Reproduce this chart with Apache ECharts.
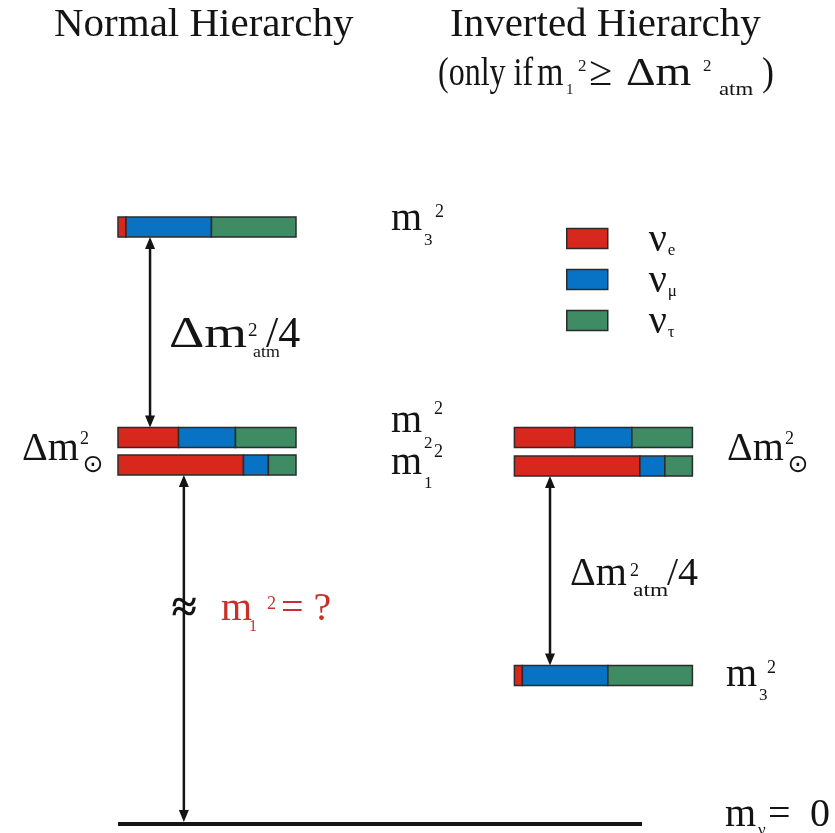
<!DOCTYPE html>
<html>
<head>
<meta charset="utf-8">
<script src="https://cdn.jsdelivr.net/npm/echarts@6/dist/echarts.min.js"></script>
<style>
  html, body { margin: 0; padding: 0; background: #fff; }
  #chart { width: 835px; height: 833px; }
</style>
</head>
<body>
<div id="chart"></div>
<script>
// Neutrino mass states, flavour content and schematic mass-squared levels
const flavours = ['νe', 'νμ', 'ντ'];
const states = ['m1', 'm2', 'm3'];
const normalLevel = [11.97, 12.88, 19.9];   // normal ordering
const invertedLevel = [11.93, 12.88, 4.95]; // inverted ordering
const shareE = [0.705, 0.34, 0.045];
const shareMu = [0.14, 0.32, 0.48];
const shareTau = [0.155, 0.34, 0.475];
const zeroLevel = 0;

const shares = [shareE, shareMu, shareTau];
const flavourColors = ['#d8281d', '#0873c5', '#3e8b64'];
const INVERTED_OFFSET = 2.227;  // x offset of the inverted column (bar widths)
const BASELINE_END = 2.944;
const BAR_H = 20;
const FONT = "'Liberation Serif', 'Times New Roman', serif";
const INK = '#141414';
const RED = '#c9302a';

function segments(f) {
  const out = [];
  [[0, normalLevel], [INVERTED_OFFSET, invertedLevel]].forEach(([off, lv]) => {
    states.forEach((s, i) => {
      let a = off;
      for (let k = 0; k < f; k++) a += shares[k][i];
      out.push([a, a + shares[f][i], lv[i]]);
    });
  });
  return out;
}

function renderBar(params, api) {
  const a = api.coord([api.value(0), api.value(2)]);
  const b = api.coord([api.value(1), api.value(2)]);
  return {
    type: 'rect',
    shape: { x: a[0], y: a[1] - BAR_H / 2, width: b[0] - a[0], height: BAR_H },
    style: { fill: api.visual('color'), stroke: '#2b2b2b', lineWidth: 1.5 }
  };
}

// double-headed arrows between levels: [x, fromLevel, toLevel]
const gaps = [
  [0.18, normalLevel[2], normalLevel[1]],
  [0.37, normalLevel[0], zeroLevel],
  [INVERTED_OFFSET + 0.2, invertedLevel[0], invertedLevel[2]]
];

function renderArrow(params, api) {
  const x = api.value(0);
  const p = api.coord([x, api.value(1)]);
  const q = api.coord([x, api.value(2)]);
  const padP = api.value(1) === zeroLevel ? 2 : BAR_H / 2;
  const padQ = api.value(2) === zeroLevel ? 2 : BAR_H / 2;
  const dir = q[1] > p[1] ? 1 : -1;
  const y1 = p[1] + dir * padP;
  const y2 = q[1] - dir * padQ;
  const L = 12, W = 5;
  const head = (tipY, d) => ({
    type: 'polygon',
    shape: { points: [[p[0], tipY], [p[0] - W, tipY + d * L], [p[0] + W, tipY + d * L]] },
    style: { fill: INK }
  });
  return {
    type: 'group',
    children: [
      { type: 'line', shape: { x1: p[0], y1: y1 + dir * 6, x2: p[0], y2: y2 - dir * 6 },
        style: { stroke: INK, lineWidth: 2.5 } },
      head(y1, dir),
      head(y2, -dir)
    ]
  };
}

// text helper: left x, alphabetic baseline y, optional horizontal stretch
function t(text, x, base, size, extra, sx) {
  const el = {
    type: 'text', x: x, y: base - 0.3375 * size, silent: true,
    style: Object.assign({
      text: text, fontSize: size, fontFamily: FONT, fill: INK,
      align: 'left', verticalAlign: 'middle'
    }, extra || {})
  };
  if (sx) el.scaleX = sx;
  return el;
}
function sun(cx, cy) {
  return {
    type: 'text', x: cx, y: cy, silent: true,
    style: { text: '⊙', fontSize: 25, fontFamily: "'DejaVu Sans', sans-serif",
             fill: INK, align: 'center', verticalAlign: 'middle' }
  };
}

const labels = [
  t('Normal Hierarchy', 54, 39, 41),
  t('Inverted Hierarchy', 450, 39, 41),
  t('(only if', 438, 88, 40, null, 0.8), t('m', 537, 88, 40, null, 0.85),
  t('1', 566, 95, 15), t('2', 578, 72, 17),
  t('≥', 589, 88, 42), t('Δm', 626, 88, 40, null, 1.15), t('2', 703, 72, 17),
  t('atm', 719, 96, 19, null, 1.2), t(')', 762, 88, 40, null, 0.9),

  t('m', 391, 233, 40), t('3', 424, 246, 17), t('2', 435, 218, 18),
  t('m', 391, 435, 40), t('2', 424, 449, 17), t('2', 434, 415, 18),
  t('m', 391, 477, 40), t('1', 424, 489, 17), t('2', 434, 458, 18),

  t('Δm', 169, 350, 44, null, 1.25), t('2', 248, 337, 19), t('atm', 253, 358, 17, null, 1.05),
  t('/4', 266, 350, 44),

  t('Δm', 22, 463, 40), t('2', 80, 445, 18), sun(93, 465),

  t('m', 221, 623, 40, { fill: RED }), t('1', 249, 632, 16, { fill: RED }),
  t('2', 267, 610, 18, { fill: RED }), t('= ?', 281, 623, 40, { fill: RED }),
  { type: 'text', x: 184, y: 610, silent: true,
    style: { text: '≈', fontSize: 46, fontWeight: 'bold', fontFamily: FONT, fill: INK,
             align: 'center', verticalAlign: 'middle' } },

  t('Δm', 727, 463, 40), t('2', 785, 445, 18), sun(798, 465),
  t('Δm', 570, 588, 40), t('2', 630, 577, 18), t('atm', 633, 597, 18, null, 1.3),
  t('/4', 667, 588, 40),
  t('m', 726, 689, 40), t('3', 759, 701, 17), t('2', 767, 674, 18),

  t('m', 725, 829, 40), t('ν', 758, 836, 17), t('=', 768, 829, 40), t('0', 810, 829, 40)
];

const chart = echarts.init(document.getElementById('chart'), null, { renderer: 'canvas' });
chart.setOption({
  backgroundColor: '#ffffff',
  animation: false,
  grid: { left: 118, right: 5, top: 74, bottom: 9, containLabel: false },
  xAxis: { type: 'value', min: 0, max: 4, show: false },
  yAxis: { type: 'value', min: 0, max: 25, show: false },
  legend: {
    orient: 'vertical', left: 566, top: 220, padding: 0,
    itemWidth: 41, itemHeight: 20, itemGap: 1, icon: 'rect',
    selectedMode: false,
    data: flavours,
    itemStyle: { borderColor: '#2b2b2b', borderWidth: 1.5 },
    formatter: name => '{n|' + name[0] + '}{s|' + name.slice(1) + '}',
    textStyle: {
      color: INK,
      rich: {
        n: { fontFamily: FONT, fontSize: 40, color: INK, padding: [6, 0, 3, 36] },
        s: { fontFamily: FONT, fontSize: 17, color: INK, padding: [28, 0, 4, 1] }
      }
    }
  },
  series: flavours.map((name, f) => ({
    name: name,
    type: 'custom',
    renderItem: renderBar,
    itemStyle: { color: flavourColors[f] },
    encode: { x: [0, 1], y: 2 },
    data: segments(f),
    z: 3
  })).concat([
    {
      name: 'gaps', type: 'custom', renderItem: renderArrow,
      encode: { x: 0, y: [1, 2] }, data: gaps, z: 2
    },
    {
      name: 'zero', type: 'line', data: [[0, zeroLevel], [BASELINE_END, zeroLevel]],
      symbol: 'none', lineStyle: { color: INK, width: 4 }, z: 2
    }
  ]),
  graphic: labels
});
</script>
</body>
</html>
